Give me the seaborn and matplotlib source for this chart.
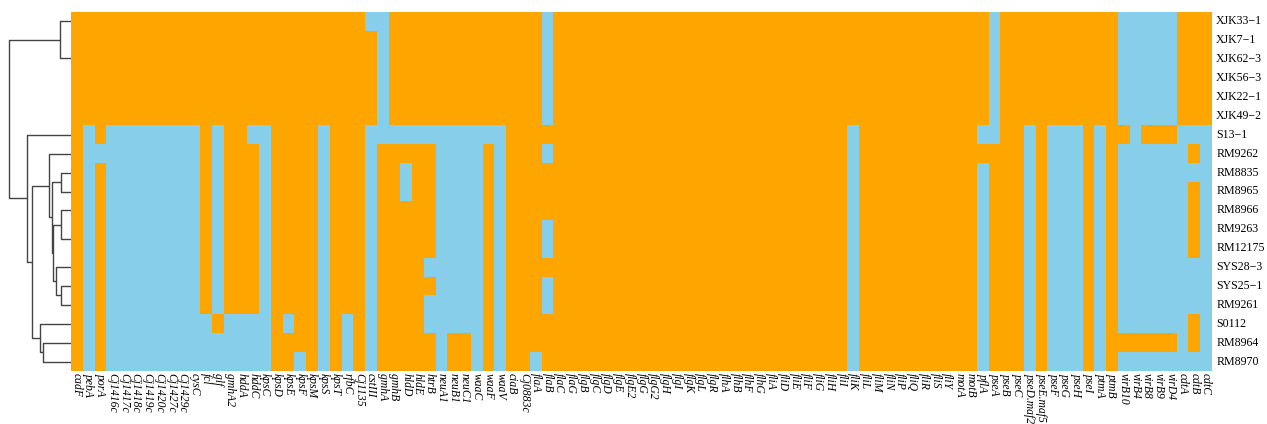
import numpy as np
import pandas as pd
import matplotlib
matplotlib.use("Agg")
import matplotlib.pyplot as plt
from matplotlib.colors import ListedColormap
import seaborn as sns

# ---------------- data ----------------
strains = ["XJK33−1", "XJK7−1", "XJK62−3", "XJK56−3", "XJK22−1", "XJK49−2",
           "S13−1", "RM9262", "RM8835", "RM8965", "RM8966", "RM9263",
           "RM12175", "SYS28−3", "SYS25−1", "RM9261", "S0112", "RM8964",
           "RM8970"]

genes = ["cadF", "pebA", "porA", "Cj1416c", "Cj1417c", "Cj1418c", "Cj1419c",
         "Cj1420c", "Cj1427c", "Cj1429c", "cysC", "fcl", "glf", "gmhA2",
         "hddA", "hddC", "kpsC", "kpsD", "kpsE", "kpsF", "kpsM", "kpsS",
         "kpsT", "rfbC", "Cj1135", "cstIII", "gmhA", "gmhB", "hldD", "hldE",
         "htrB", "neuA1", "neuB1", "neuC1", "waaC", "waaF", "waaV", "ciaB",
         "Cj0883c", "flaA", "flaB", "flaC", "flaG", "flgB", "flgC", "flgD",
         "flgE", "flgE2", "flgG", "flgG2", "flgH", "flgI", "flgK", "flgL",
         "flgR", "flhA", "flhB", "flhF", "flhG", "fliA", "fliD", "fliE",
         "fliF", "fliG", "fliH", "fliI", "fliK", "fliL", "fliM", "fliN",
         "fliP", "fliQ", "fliR", "fliS", "fliY", "motA", "motB", "pflA",
         "pseA", "pseB", "pseC", "pseD.maf2", "pseE.maf5", "pseF", "pseG",
         "pseH", "pseI", "ptmA", "ptmB", "virB10", "virB4", "virB8", "virB9",
         "virD4", "cdtA", "cdtB", "cdtC"]

# presence (1) / absence (0) per gene, one character per strain (in strain order)
presence_by_gene = [
    "1111111111111111111",  # cadF
    "1111110000000000000",  # pebA
    "1111111011111111111",  # porA
    "1111110000000000000",  # Cj1416c
    "1111110000000000000",  # Cj1417c
    "1111110000000000000",  # Cj1418c
    "1111110000000000000",  # Cj1419c
    "1111110000000000000",  # Cj1420c
    "1111110000000000000",  # Cj1427c
    "1111110000000000000",  # Cj1429c
    "1111110000000000000",  # cysC
    "1111111111111111000",  # fcl
    "1111110000000000100",  # glf
    "1111111111111111000",  # gmhA2
    "1111111111111111000",  # hddA
    "1111110111111111000",  # hddC
    "1111110000000000000",  # kpsC
    "1111111111111111111",  # kpsD
    "1111111111111111011",  # kpsE
    "1111111111111111110",  # kpsF
    "1111111111111111111",  # kpsM
    "1111110000000000000",  # kpsS
    "1111111111111111111",  # kpsT
    "1111111111111111000",  # rfbC
    "1111111111111111111",  # Cj1135
    "0111110000000000000",  # cstIII
    "0000000111111111111",  # gmhA
    "1111110111111111111",  # gmhB
    "1111110100111111111",  # hldD
    "1111110111111111111",  # hldE
    "1111110111111010011",  # htrB
    "1111110000000000000",  # neuA1
    "1111110000000000011",  # neuB1
    "1111110000000000011",  # neuC1
    "1111110000000000000",  # waaC
    "1111110111111111111",  # waaF
    "1111110000000000000",  # waaV
    "1111111111111111111",  # ciaB
    "1111111111111111111",  # Cj0883c
    "1111111111111111110",  # flaA
    "0000001011100100111",  # flaB
    "1111111111111111111",  # flaC
    "1111111111111111111",  # flaG
    "1111111111111111111",  # flgB
    "1111111111111111111",  # flgC
    "1111111111111111111",  # flgD
    "1111111111111111111",  # flgE
    "1111111111111111111",  # flgE2
    "1111111111111111111",  # flgG
    "1111111111111111111",  # flgG2
    "1111111111111111111",  # flgH
    "1111111111111111111",  # flgI
    "1111111111111111111",  # flgK
    "1111111111111111111",  # flgL
    "1111111111111111111",  # flgR
    "1111111111111111111",  # flhA
    "1111111111111111111",  # flhB
    "1111111111111111111",  # flhF
    "1111111111111111111",  # flhG
    "1111111111111111111",  # fliA
    "1111111111111111111",  # fliD
    "1111111111111111111",  # fliE
    "1111111111111111111",  # fliF
    "1111111111111111111",  # fliG
    "1111111111111111111",  # fliH
    "1111111111111111111",  # fliI
    "1111110000000000000",  # fliK
    "1111111111111111111",  # fliL
    "1111111111111111111",  # fliM
    "1111111111111111111",  # fliN
    "1111111111111111111",  # fliP
    "1111111111111111111",  # fliQ
    "1111111111111111111",  # fliR
    "1111111111111111111",  # fliS
    "1111111111111111111",  # fliY
    "1111111111111111111",  # motA
    "1111111111111111111",  # motB
    "1111110100000000000",  # pflA
    "0000000111111111111",  # pseA
    "1111111111111111111",  # pseB
    "1111111111111111111",  # pseC
    "1111110000000000000",  # pseD.maf2
    "1111111111111111111",  # pseE.maf5
    "1111110000000000000",  # pseF
    "1111110000000000000",  # pseG
    "1111110000000000000",  # pseH
    "1111111111111111111",  # pseI
    "1111110000000000000",  # ptmA
    "1111111111111111111",  # ptmB
    "0000001000000000010",  # virB10
    "0000000000000000010",  # virB4
    "0000001000000000010",  # virB8
    "0000001000000000010",  # virB9
    "0000001000000000010",  # virD4
    "1111110000000000000",  # cdtA
    "1111110101111000110",  # cdtB
    "1111110000000000000",  # cdtC
]

# row dendrogram: (left child, right child, merge height); new node ids start at 19
row_linkage = [
    (4, 5, 0.0), (3, 19, 0.0), (2, 20, 0.0), (1, 21, 0.0), (0, 22, 10.4),
    (8, 9, 10.0), (11, 12, 0.0), (10, 25, 10.0), (14, 15, 10.0),
    (13, 27, 14.7), (26, 28, 17.4), (24, 29, 19.0), (7, 30, 21.4),
    (17, 18, 28.0), (16, 32, 30.7), (31, 33, 38.4), (6, 34, 43.4),
    (23, 35, 62.0),
]

# ---------------- figure ----------------
W, H = 1267, 424
fig = plt.figure(figsize=(W / 100, H / 100), dpi=100)
ax_h = fig.add_axes([71 / W, 53 / H, 1141 / W, 359 / H])
ax_d = fig.add_axes([5.6 / W, 53 / H, 65.1 / W, 359 / H])

mat = np.array([[int(ch) for ch in s] for s in presence_by_gene]).T
df = pd.DataFrame(mat, index=strains, columns=genes)
cmap = ListedColormap(["#87CEEB", "#FFA500"])
sns.heatmap(df, cmap=cmap, vmin=0, vmax=1, cbar=False, ax=ax_h,
            xticklabels=True, yticklabels=True, linewidths=0)

ax_h.set_xlabel("")
ax_h.set_ylabel("")
ax_h.yaxis.tick_right()
ax_h.set_yticks(np.arange(len(strains)) + 0.5)
ax_h.set_yticklabels(strains, rotation=0, fontsize=8.6,
                     family="Liberation Serif", va="center")
ax_h.set_xticks(np.arange(len(genes)) + 0.5)
ax_h.set_xticklabels(genes, rotation=270, fontsize=8.4,
                     family="Liberation Serif", style="italic",
                     ha="center", va="top")
ax_h.tick_params(axis="x", length=0, pad=1.5)
ax_h.tick_params(axis="y", length=0, pad=3)

# dendrogram
n = len(strains)
pos = {i: i + 0.5 for i in range(n)}
hgt = {i: 0.0 for i in range(n)}
for k, (a, b, h) in enumerate(row_linkage):
    node = n + k
    pos[node] = (pos[a] + pos[b]) / 2
    hgt[node] = h
    if h > 0:
        ax_d.plot([hgt[a], h, h, hgt[b]], [pos[a], pos[a], pos[b], pos[b]],
                  color="#444444", lw=1.0, solid_capstyle="butt")
max_h = max(h for _, _, h in row_linkage)
ax_d.set_xlim(max_h * 1.05, 0)
ax_d.set_ylim(n, 0)
ax_d.axis("off")

fig.savefig("out.png", dpi=100)
